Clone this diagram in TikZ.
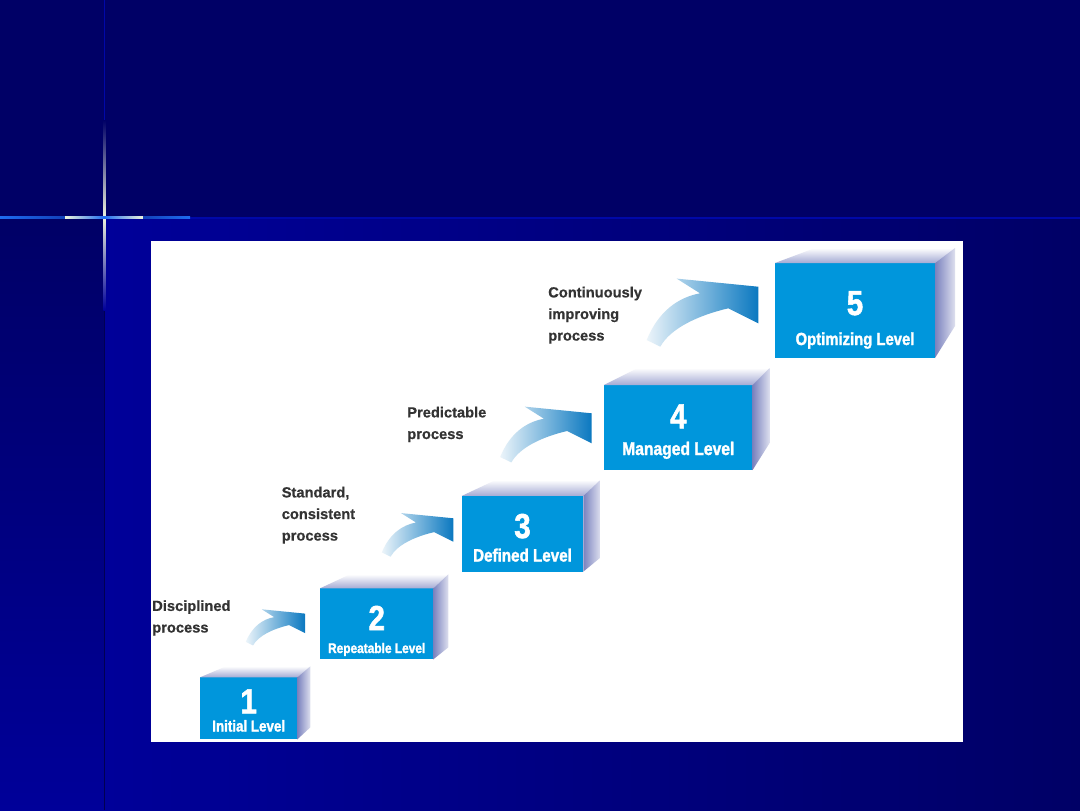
\documentclass[tikz,border=0pt]{standalone}
\usepackage{fontspec}
\setmainfont{Liberation Sans}[BoldFeatures={FakeBold=0.6}]
\newfontfamily\condfont[FakeStretch=0.85, BoldFeatures={FakeBold=1.6}]{Liberation Sans}
\definecolor{CMMNavy}{HTML}{000066}
\definecolor{CMMDeep}{HTML}{000099}
\definecolor{CMMLine}{HTML}{0008A8}
\definecolor{CMMRay}{HTML}{1E6CF0}
\definecolor{CMMGlow}{HTML}{EEF4DC}
\definecolor{CMMBlue}{HTML}{0096DC}
\definecolor{CMMLav}{HTML}{A4AAD4}
\definecolor{CMMSide}{HTML}{7A82BE}
\definecolor{CMMArrow}{HTML}{0A78C0}
\definecolor{CMMInk}{HTML}{333333}
\tikzset{
  lvlFront/.style={
    fill=CMMBlue,
    inner sep=0pt,
    outer sep=0pt
  },
  lvlNum/.style={
    text=white,
    anchor=base,
    inner sep=0pt,
    font=\condfont\bfseries\fontsize{26pt}{26pt}\selectfont
  },
  lvlName/.style={
    text=white,
    anchor=base,
    inner sep=0pt,
    font=\condfont\bfseries\fontsize{#1}{#1}\selectfont
  },
  lvlTop/.style={
    top color=white,
    bottom color=CMMLav
  },
  lvlSide/.style={
    left color=CMMSide,
    right color=CMMSide!25
  },
  stepNote/.style={
    text=CMMInk,
    anchor=north west,
    inner sep=0pt,
    align=left,
    font=\bfseries\fontsize{11pt}{16.2pt}\selectfont
  },
  stepArrow/.pic={
    \shade[left color=CMMArrow!8, middle color=CMMArrow!50, right color=CMMArrow]
      (0,0) -- (-30,-15) .. controls (-60,-8) and (-88,5) .. (-98,23.4)
      -- (-111.6,16.7) .. controls (-100,-12) and (-80,-26) .. (-58.3,-30)
      -- (-81.6,-44.7) -- (0,-36.6) -- cycle;
  }
}
\begin{document}
\begin{tikzpicture}[x=0.75pt, y=-0.75pt]
  \useasboundingbox (0,0) rectangle (1080,810);
  % slide background
  \fill[CMMNavy] (0,0) rectangle (1080,810);
  \shade[top color=CMMNavy, bottom color=CMMDeep] (0,218) rectangle (104,810);
  \shade[left color=CMMDeep, right color=CMMNavy] (104,218) rectangle (1080,810);
  \draw[CMMNavy!80!black, line width=1.2pt] (104.5,300) -- (104.5,810);
  \draw[CMMLine, line width=1.2pt] (104.5,0) -- (104.5,130);
  \shade[top color=CMMNavy, middle color=CMMRay, bottom color=CMMGlow] (103.3,120) rectangle (105.7,217);
  \shade[top color=CMMGlow, middle color=CMMRay, bottom color=CMMDeep] (103.3,217) rectangle (105.7,310);
  \fill[CMMLine] (0,216.5) rectangle (1080,218.5);
  \shade[left color=CMMRay, right color=CMMRay!60!CMMNavy] (0,216.3) rectangle (65,218.7);
  \shade[left color=CMMGlow, right color=CMMRay] (65,216.3) rectangle (104,218.7);
  \shade[left color=CMMRay, right color=CMMGlow] (104,216.3) rectangle (143,218.7);
  \shade[left color=CMMRay!60!CMMNavy, right color=CMMRay] (143,216.3) rectangle (190,218.7);

  % white panel
  \fill[white] (151,241) rectangle (963,742);

  % level boxes
  \node[lvlFront, minimum width=73pt, minimum height=46.5pt] (lvl1) at (248.7,708.3) {};
  \node[lvlFront, minimum width=85pt, minimum height=53.25pt] (lvl2) at (376.7,623.8) {};
  \node[lvlFront, minimum width=91.25pt, minimum height=56.75pt] (lvl3) at (522.5,533.8) {};
  \node[lvlFront, minimum width=111.5pt, minimum height=63.75pt] (lvl4) at (678.3,427.5) {};
  \node[lvlFront, minimum width=120pt, minimum height=71.25pt] (lvl5) at (855,310.5) {};

  \shade[lvlTop] (lvl1.north west) -- ([shift={(26,-11)}]lvl1.north west) -- ([shift={(13,-11)}]lvl1.north east) -- (lvl1.north east) -- cycle;
  \shade[lvlSide] (lvl1.north east) -- ([shift={(13,-11)}]lvl1.north east) -- ([shift={(13,-12)}]lvl1.south east) -- (lvl1.south east) -- cycle;
  \shade[lvlTop] (lvl2.north west) -- ([shift={(30,-14)}]lvl2.north west) -- ([shift={(15,-14)}]lvl2.north east) -- (lvl2.north east) -- cycle;
  \shade[lvlSide] (lvl2.north east) -- ([shift={(15,-14)}]lvl2.north east) -- ([shift={(15,-12)}]lvl2.south east) -- (lvl2.south east) -- cycle;
  \shade[lvlTop] (lvl3.north west) -- ([shift={(34,-16)}]lvl3.north west) -- ([shift={(17,-16)}]lvl3.north east) -- (lvl3.north east) -- cycle;
  \shade[lvlSide] (lvl3.north east) -- ([shift={(17,-16)}]lvl3.north east) -- ([shift={(17,-14)}]lvl3.south east) -- (lvl3.south east) -- cycle;
  \shade[lvlTop] (lvl4.north west) -- ([shift={(34,-17)}]lvl4.north west) -- ([shift={(17,-17)}]lvl4.north east) -- (lvl4.north east) -- cycle;
  \shade[lvlSide] (lvl4.north east) -- ([shift={(17,-17)}]lvl4.north east) -- ([shift={(17,-27)}]lvl4.south east) -- (lvl4.south east) -- cycle;
  \shade[lvlTop] (lvl5.north west) -- ([shift={(40,-15)}]lvl5.north west) -- ([shift={(20,-15)}]lvl5.north east) -- (lvl5.north east) -- cycle;
  \shade[lvlSide] (lvl5.north east) -- ([shift={(20,-15)}]lvl5.north east) -- ([shift={(20,-32)}]lvl5.south east) -- (lvl5.south east) -- cycle;

  \node[lvlNum] (num1) at (248.7,713.3) {1};
  \node[lvlName=11.8pt] (name1) at (248.7,731.5) {Initial Level};
  \node[lvlNum] (num2) at (376.7,630) {2};
  \node[lvlName=10.5pt] (name2) at (376.7,653) {Repeatable Level};
  \node[lvlNum] (num3) at (522.5,538) {3};
  \node[lvlName=13.4pt] (name3) at (522.5,561.5) {Defined Level};
  \node[lvlNum] (num4) at (678.3,428.3) {4};
  \node[lvlName=13.8pt] (name4) at (678.3,455) {Managed Level};
  \node[lvlNum] (num5) at (855,315) {5};
  \node[lvlName=13.1pt] (name5) at (855,345) {Optimizing Level};

  % process notes and step arrows
  \node[stepNote] (note1) at (152,600) {Disciplined\\process};
  \node[stepNote] (note2) at (281.5,486.5) {Standard,\\consistent\\process};
  \node[stepNote] (note3) at (407,406.5) {Predictable\\process};
  \node[stepNote] (note4) at (548,286.5) {Continuously\\improving\\process};

  \pic[scale=0.53] (arr1) at (305,633) {stepArrow};
  \pic[scale=0.64] (arr2) at (453.3,541.7) {stepArrow};
  \pic[scale=0.82] (arr3) at (591.7,443.3) {stepArrow};
  \pic (arr4) at (758.3,323.3) {stepArrow};
\end{tikzpicture}
\end{document}
